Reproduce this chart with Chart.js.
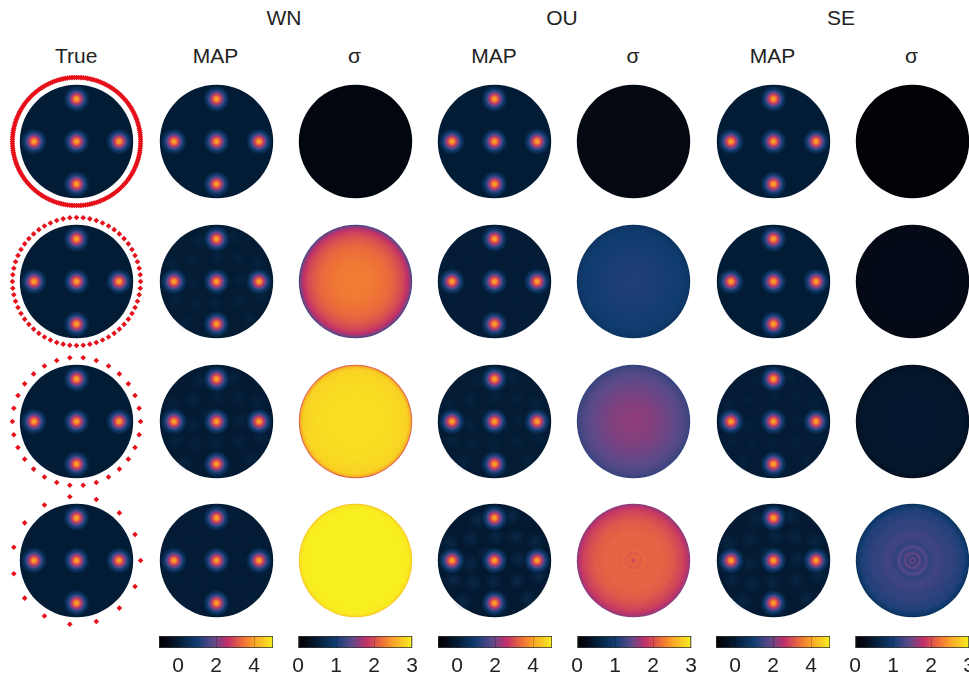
<!DOCTYPE html>
<html>
<head>
<meta charset="utf-8">
<title>Reconstructions</title>
<script src="https://cdn.jsdelivr.net/npm/chart.js@4/dist/chart.umd.js"></script>
<style>
	html, body { margin: 0; background: #fff; overflow: hidden; }
	#page { position: relative; width: 969px; height: 674px; overflow: hidden; }
	canvas { position: absolute; }
	.title { position: absolute; transform: translateX(-50%); font: 21px "Liberation Sans", Arial, sans-serif; color: #222; line-height: 22px; white-space: nowrap; }
</style>
</head>
<body>
<div id="page"></div>
<script>
// --- values ---
const groupLabels = ["WN", "OU", "SE"];
const columnLabels = ["True", "MAP", "\u03c3", "MAP", "\u03c3", "MAP", "\u03c3"];
const mapTicks = [0, 2, 4];
const sigmaTicks = [0, 1, 2, 3];
const mapRange = [-1, 5];
const sigmaRange = [0, 3];

// colormap
const cmapPos = [0, 0.08, 0.17, 0.33, 0.47, 0.6, 0.74, 0.83, 1];
const cmapColors = ["#000000", "#040a16", "#031c36", "#103c70", "#5a4a8a", "#c0306a", "#ee7038", "#f8a028", "#f8f020"];

// the five sources
const sourceX = [0, 0.75, -0.75, 0, 0];
const sourceY = [0, 0, 0, 0.75, -0.75];
const spotRadii = [0, 0.1, 0.2, 0.3, 0.4, 0.5, 0.6, 0.7, 0.8, 0.9, 1];
const spotValues = [4.1, 3.9, 3.5, 2.9, 2.3, 1.8, 1.3, 0.9, 0.55, 0.25, 0.02];
const mapBackground = 0.02;

// sensor angles in degrees, one list per row
const sensorsDense = [0,2,4,6,8,10,12,14,16,18,20,22,24,26,28,30,32,34,36,38,40,42,44,46,48,50,52,54,56,58,60,62,64,66,68,70,72,74,76,78,80,82,84,86,88,90,92,94,96,98,100,102,104,106,108,110,112,114,116,118,120,122,124,126,128,130,132,134,136,138,140,142,144,146,148,150,152,154,156,158,160,162,164,166,168,170,172,174,176,178,180,182,184,186,188,190,192,194,196,198,200,202,204,206,208,210,212,214,216,218,220,222,224,226,228,230,232,234,236,238,240,242,244,246,248,250,252,254,256,258,260,262,264,266,268,270,272,274,276,278,280,282,284,286,288,290,292,294,296,298,300,302,304,306,308,310,312,314,316,318,320,322,324,326,328,330,332,334,336,338,340,342,344,346,348,350,352,354,356,358];
const sensors60 = [0,6,12,18,24,30,36,42,48,54,60,66,72,78,84,90,96,102,108,114,120,126,132,138,144,150,156,162,168,174,180,186,192,198,204,210,216,222,228,234,240,246,252,258,264,270,276,282,288,294,300,306,312,318,324,330,336,342,348,354];
const sensors30 = [0,12,24,36,48,60,72,84,96,108,120,132,144,156,168,180,192,204,216,228,240,252,264,276,288,300,312,324,336,348];
const sensors15 = [0,24,48,72,96,120,144,168,192,216,240,264,288,312,336];
const sensorRows = [sensorsDense, sensors60, sensors30, sensors15];
const sensorRing = 1.13;

// sigma profile from centre to rim, one list per row
const sigmaRadii = [0, 0.04, 0.08, 0.13, 0.18, 0.24, 0.3, 0.4, 0.6, 0.75, 0.85, 0.92, 0.97, 1];
const wnSigma = [
	[0.15, 0.15, 0.15, 0.15, 0.15, 0.15, 0.15, 0.15, 0.15, 0.15, 0.15, 0.15, 0.15, 0.14],
	[2.3, 2.3, 2.3, 2.3, 2.29, 2.28, 2.28, 2.25, 2.18, 2.06, 1.94, 1.8, 1.55, 1.25],
	[2.88, 2.88, 2.88, 2.88, 2.88, 2.88, 2.88, 2.88, 2.87, 2.85, 2.83, 2.8, 2.6, 2.0],
	[3.0, 3.0, 3.0, 3.0, 3.0, 3.0, 3.0, 3.0, 3.0, 3.0, 2.99, 2.98, 2.92, 2.7]
];
const ouSigma = [
	[0.18, 0.18, 0.18, 0.18, 0.18, 0.18, 0.18, 0.18, 0.18, 0.18, 0.18, 0.18, 0.18, 0.17],
	[1.07, 1.07, 1.07, 1.07, 1.07, 1.06, 1.06, 1.05, 1.02, 1.0, 0.97, 0.94, 0.9, 0.85],
	[1.6, 1.6, 1.6, 1.6, 1.59, 1.58, 1.57, 1.55, 1.48, 1.42, 1.37, 1.3, 1.25, 1.18],
	[1.85, 2.08, 2.16, 2.08, 2.17, 2.13, 2.14, 2.13, 2.1, 2.02, 1.95, 1.85, 1.72, 1.55]
];
const seSigma = [
	[0.05, 0.05, 0.05, 0.05, 0.05, 0.05, 0.05, 0.05, 0.05, 0.05, 0.05, 0.05, 0.05, 0.05],
	[0.26, 0.26, 0.26, 0.26, 0.26, 0.26, 0.26, 0.26, 0.26, 0.26, 0.25, 0.24, 0.22, 0.18],
	[0.44, 0.44, 0.44, 0.44, 0.44, 0.44, 0.44, 0.44, 0.43, 0.43, 0.42, 0.4, 0.36, 0.3],
	[0.95, 1.5, 1.15, 1.45, 1.18, 1.38, 1.16, 1.26, 1.18, 1.14, 1.08, 1.02, 0.92, 0.82]
];
const sigmaColumns = [wnSigma, ouSigma, seSigma];

// faint lobes on the last sigma row
const lobeRadii = [0.86, 0.68, 0.5];
const lobeTints = [[], ["200,70,90", "235,120,70", "235,120,70"], ["70,75,150", "70,75,150", "90,70,140"]];

// blotches in the MAP backgrounds
const blotchX = [-0.42, 0.38, -0.38, 0.4, 0.02, -0.02, -0.78, 0.72, 0.3, -0.3, -0.55, 0.58, 0.12, -0.14, 0.42, -0.42, 0.78, -0.72];
const blotchY = [0.38, 0.42, -0.4, -0.36, 0.42, -0.38, 0.3, 0.34, 0.78, 0.72, -0.72, -0.66, -0.82, 0.1, 0.02, -0.06, -0.28, -0.34];
const blotchStrength = [
	[0, 0, 0],
	[0.3, 0.1, 0.03],
	[0.35, 0.3, 0.22],
	[0.12, 0.6, 0.5]
];

// --- layout ---
const colCenters = [76.7, 216, 355, 494.5, 633.5, 773, 912];
const rowCenters = [141.5, 281.5, 421, 560];
const groupCenters = [284, 562, 841];
const barLefts = [159, 298, 438, 577, 716, 855];
const discPx = 56.7;
const panelSize = 139;
const extent = panelSize / 2 / discPx;
const spotSize = 0.24;

const page = document.getElementById("page");
Chart.defaults.animation = false;
Chart.defaults.font.family = '"Liberation Sans", Arial, sans-serif';

function addTitle(text, x, y) {
	const el = document.createElement("div");
	el.className = "title";
	el.textContent = text;
	el.style.left = x + "px";
	el.style.top = y + "px";
	page.appendChild(el);
}

function addCanvas(left, top, width, height) {
	const canvas = document.createElement("canvas");
	canvas.width = width;
	canvas.height = height;
	canvas.style.left = left + "px";
	canvas.style.top = top + "px";
	page.appendChild(canvas);
	return canvas;
}

const hex = (c) => [1, 3, 5].map((i) => parseInt(c.slice(i, i + 2), 16));

function colorAt(t, alpha = 1) {
	t = Math.max(0, Math.min(1, t));
	let i = 0;
	while (i < cmapPos.length - 2 && t > cmapPos[i + 1]) i++;
	const f = (t - cmapPos[i]) / (cmapPos[i + 1] - cmapPos[i]);
	const a = hex(cmapColors[i]), b = hex(cmapColors[i + 1]);
	const mix = a.map((v, k) => Math.round(v + (b[k] - v) * f));
	return `rgba(${mix[0]},${mix[1]},${mix[2]},${alpha})`;
}

const toFrac = (v, range) => (v - range[0]) / (range[1] - range[0]);
// the library also resolves options once before the scales have a size
const unitPx = (chart) => {
	const u = chart.scales.x.getPixelForValue(1) - chart.scales.x.getPixelForValue(0);
	return Number.isFinite(u) ? u : 0;
};

// radial fill for a point, stops come from a profile list
function radialFill(ctx, radius, stops) {
	const chart = ctx.chart;
	if (!ctx.raw || !unitPx(chart)) return "#000";
	const px = chart.scales.x.getPixelForValue(ctx.raw.x);
	const py = chart.scales.y.getPixelForValue(ctx.raw.y);
	if (!Number.isFinite(px) || !Number.isFinite(py)) return "#000";
	const g = chart.ctx.createRadialGradient(px, py, 0, px, py, radius * unitPx(chart));
	stops.forEach((s) => g.addColorStop(s[0], s[1]));
	return g;
}

function softSet(points, radius, stops) {
	return {
		data: points,
		pointStyle: "circle",
		pointBorderWidth: 0,
		pointRadius: (ctx) => radius * unitPx(ctx.chart),
		pointBackgroundColor: (ctx) => radialFill(ctx, radius, stops)
	};
}

function panel(col, row, datasets) {
	const left = Math.round(colCenters[col] - panelSize / 2);
	const top = Math.round(rowCenters[row] - panelSize / 2);
	new Chart(addCanvas(left, top, panelSize, panelSize), {
		type: "scatter",
		data: { datasets: datasets.map((d) => ({ clip: false, ...d })) },
		options: {
			responsive: false,
			devicePixelRatio: 1,
			events: [],
			layout: { padding: 0, autoPadding: false },
			plugins: { legend: { display: false }, tooltip: { enabled: false } },
			scales: {
				x: { type: "linear", display: false, min: -extent, max: extent },
				y: { type: "linear", display: false, min: -extent, max: extent }
			}
		}
	});
}

const sourcePoints = sourceX.map((x, i) => ({ x: x, y: sourceY[i] }));
const spotStops = spotRadii.map((r, i) => [r, colorAt(toFrac(spotValues[i], mapRange), i === spotRadii.length - 1 ? 0 : 1)]);
const flatDisc = (color) => ({ data: [{ x: 0, y: 0 }], pointStyle: "circle", pointBorderWidth: 0, pointRadius: (ctx) => unitPx(ctx.chart), pointBackgroundColor: color });
const bgColor = colorAt(toFrac(mapBackground, mapRange));
const angleToPoint = (deg, r) => ({ x: r * Math.cos(deg * Math.PI / 180), y: r * Math.sin(deg * Math.PI / 180) });

// true column, with the sensors
sensorRows.forEach((angles, row) => {
	panel(0, row, [
		{
			data: angles.map((a) => angleToPoint(a, sensorRing)),
			pointStyle: "rectRot",
			pointRadius: 2.8,
			pointBorderWidth: 0,
			pointBackgroundColor: "#e6101a"
		},
		softSet(sourcePoints, spotSize, spotStops),
		flatDisc(bgColor)
	]);
});

// MAP and sigma columns
groupLabels.forEach((name, g) => {
	for (let row = 0; row < 4; row++) {
		const strength = blotchStrength[row][g];
		const blotches = blotchX.map((x, i) => ({ x: x, y: blotchY[i] }));
		panel(1 + g * 2, row, [
			softSet(sourcePoints, spotSize, spotStops),
			softSet(blotches, 0.17, [[0, `rgba(20,70,120,${0.55 * strength})`], [1, "rgba(20,70,120,0)"]]),
			flatDisc(colorAt(toFrac(mapBackground - 0.15 * strength, mapRange)))
		]);

		const profile = sigmaColumns[g][row];
		const sets = [];
		if (row === 3 && g > 0) {
			lobeRadii.forEach((r, k) => {
				const tint = lobeTints[g][k];
				sets.push(softSet(sensors30.map((a) => angleToPoint(a, r)), 0.1, [[0, `rgba(${tint},0.2)`], [1, `rgba(${tint},0)`]]));
			});
		}
		sets.push(softSet([{ x: 0, y: 0 }], 1, sigmaRadii.map((r, i) => [r, colorAt(toFrac(profile[i], sigmaRange))])));
		panel(2 + g * 2, row, sets);
	}
});

// colour bars
function colorBar(left, ticks, range) {
	const pad = 15;
	const barWidth = 114;
	new Chart(addCanvas(left - pad, 630, barWidth + pad * 2, 44), {
		type: "bar",
		data: {
			labels: [""],
			datasets: [{
				data: [range],
				borderColor: "#333",
				borderWidth: 1,
				borderSkipped: false,
				barPercentage: 1,
				categoryPercentage: 1,
				backgroundColor: (ctx) => {
					const area = ctx.chart.chartArea;
					if (!area) return "#000";
					const g = ctx.chart.ctx.createLinearGradient(area.left, 0, area.right, 0);
					cmapPos.forEach((p, i) => g.addColorStop(p, cmapColors[i]));
					return g;
				}
			}]
		},
		options: {
			indexAxis: "y",
			responsive: false,
			devicePixelRatio: 1,
			events: [],
			layout: { padding: { left: pad, right: pad, top: 6, bottom: 0 } },
			plugins: { legend: { display: false }, tooltip: { enabled: false } },
			scales: {
				y: { display: false },
				x: {
					type: "linear",
					min: range[0],
					max: range[1],
					border: { display: false },
					grid: { color: "rgba(0,0,0,0.2)", tickLength: 0, z: 1 },
					afterBuildTicks: (axis) => { axis.ticks = ticks.map((v) => ({ value: v })); },
					afterFit: (axis) => { axis.height = 26; },
					ticks: { color: "#222", padding: 6, maxRotation: 0, autoSkip: false, font: { size: 21 } }
				}
			}
		}
	});
}

barLefts.forEach((left, i) => {
	if (i % 2 === 0) colorBar(left, mapTicks, mapRange);
	else colorBar(left, sigmaTicks, sigmaRange);
});

// titles
groupLabels.forEach((t, i) => addTitle(t, groupCenters[i], 7));
columnLabels.forEach((t, i) => addTitle(t, colCenters[i] - 0.5, 45));
</script>
</body>
</html>
